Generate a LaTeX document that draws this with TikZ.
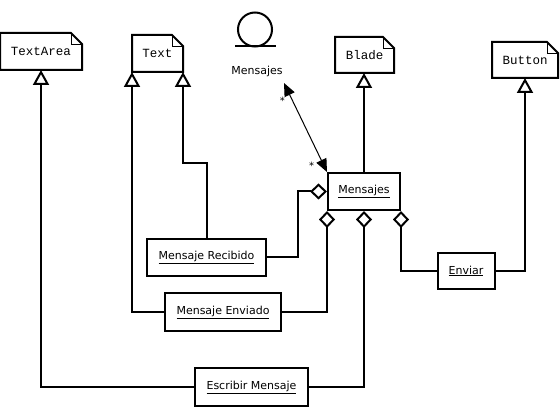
\documentclass[tikz,border=0pt]{standalone}
\usepackage{fontspec}
\setmainfont{DejaVu Sans}
\newfontfamily\notefont{Liberation Mono}
\usetikzlibrary{arrows.meta}

\begin{document}
\begin{tikzpicture}[x=1pt,y=-1pt,line width=2pt,
    every node/.style={font=\fontsize{11}{13}\selectfont},
    classbox/.style={draw,rectangle,inner sep=0pt},
    notebox/.style={rectangle,inner sep=0pt,font=\notefont\fontsize{12.5}{14}\selectfont},
    gen/.style={-{Triangle[fill=white,length=15pt,width=16pt]}},
    agg/.style={-{Diamond[fill=white,length=17pt,width=16pt]}},
    assoc/.style={line width=1pt,{Triangle[length=13pt,width=11pt]}-{Triangle[length=13pt,width=11pt]}}]
  \useasboundingbox (0,0) rectangle (560,414);
  % library classes (notes with a folded corner)
  \node[notebox,minimum width=80pt,minimum height=35pt] (textarea) at (41,51.5) {TextArea};
  \node[notebox,minimum width=49pt,minimum height=35pt] (text) at (157.5,53.5) {Text};
  \node[notebox,minimum width=57pt,minimum height=34pt] (blade) at (364.5,55) {Blade};
  \node[notebox,minimum width=64pt,minimum height=34pt] (button) at (525,60) {Button};
  \foreach \n in {textarea,text,blade,button} {
    \draw (\n.south west) -- (\n.north west) -- ([xshift=-11pt]\n.north east)
      -- ([yshift=-11pt]\n.north east) -- (\n.south east) -- cycle;
    \draw[line width=0.8pt] ([xshift=-11pt]\n.north east) |- ([yshift=-11pt]\n.north east);
  }
  % actor
  \node[circle,draw,minimum size=34pt,inner sep=0pt] (actor) at (255,29.5) {};
  \draw (235,46.5) -- (276,46.5);
  \node (actorlbl) at (257,71) {Mensajes};
  \coordinate (assocend) at (284,83);
  % objects
  \node[classbox,minimum width=72pt,minimum height=37pt] (mensajes) at (364,191.5) {\underline{Mensajes}};
  \node[classbox,minimum width=119pt,minimum height=37pt] (recibido) at (206.5,257.5) {\underline{Mensaje Recibido}};
  \node[classbox,minimum width=116pt,minimum height=38pt] (enviado) at (223,312) {\underline{Mensaje Enviado}};
  \node[classbox,minimum width=113pt,minimum height=38pt] (escribir) at (251.5,387) {\underline{Escribir Mensaje}};
  \node[classbox,minimum width=57pt,minimum height=36pt] (enviar) at (466,271) {\underline{Enviar}};
  % generalizations
  \draw[gen] (escribir) -| (textarea);
  \draw[gen] (enviado) -| (text.south west);
  \draw[gen] (recibido.north) -- (recibido.north |- 0,163) -| (text.south east);
  \draw[gen] (mensajes.north) -- (mensajes.north |- blade.south);
  \draw[gen] (enviar) -| (button);
  % aggregations
  \draw[agg] (escribir) -| (mensajes);
  \draw[agg] (enviado) -| (mensajes.south west);
  \draw[agg] (recibido.east) -- ++(31,0) |- (mensajes.west);
  \draw[agg] (enviar) -| (mensajes.south east);
  % association with the actor
  \draw[assoc] (assocend) -- (mensajes.north west)
    node[pos=0.2,left=4pt,font=\normalsize] {*}
    node[pos=0.93,left=6pt,font=\normalsize] {*};
\end{tikzpicture}
\end{document}
